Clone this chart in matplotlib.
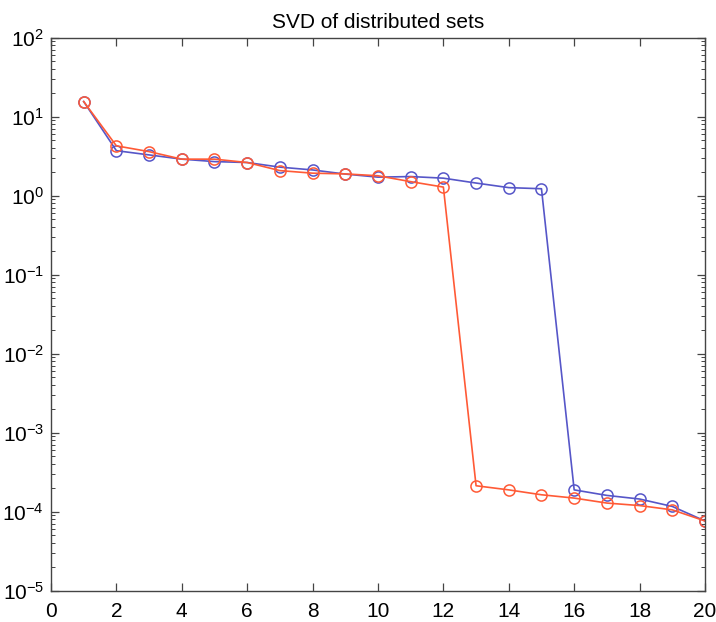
import matplotlib
matplotlib.use("Agg")
import matplotlib.pyplot as plt
from matplotlib.ticker import LogLocator, FixedLocator, NullFormatter

plt.rcParams["font.family"] = ["Liberation Sans", "DejaVu Sans"]

# singular value index
index = list(range(1, 21))

# blue set: drops after 15
blue_sv = [15.5, 3.7, 3.27, 2.89, 2.69, 2.62, 2.29, 2.11, 1.87, 1.71,
           1.74, 1.66, 1.44, 1.26, 1.22, 1.88e-4, 1.60e-4, 1.44e-4, 1.16e-4, 7.6e-5]

# red set: drops after 12
red_sv = [15.5, 4.26, 3.6, 2.89, 2.89, 2.62, 2.07, 1.92, 1.88, 1.78,
          1.50, 1.28, 2.12e-4, 1.88e-4, 1.63e-4, 1.48e-4, 1.28e-4, 1.19e-4, 1.05e-4, 7.6e-5]

x_ticks = list(range(0, 21, 2))

BLUE = "#5656c8"
RED = "#ff5a36"


def main():
    fig = plt.figure(figsize=(7.16, 6.22), dpi=100)
    ax = fig.add_axes([0.0712, 0.0506, 0.9134, 0.889])

    ax.plot(index, blue_sv, color=BLUE, lw=1.2, marker="o", ms=8,
            mfc="none", mec=BLUE, mew=1.1)
    ax.plot(index, red_sv, color=RED, lw=1.2, marker="o", ms=8,
            mfc="none", mec=RED, mew=1.1)

    ax.set_yscale("log")
    ax.set_ylim(1e-5, 1e2)
    ax.set_xlim(0, 20)
    ax.xaxis.set_major_locator(FixedLocator(x_ticks))
    ax.yaxis.set_major_locator(LogLocator(base=10, numticks=10))
    ax.yaxis.set_minor_locator(LogLocator(base=10, subs=range(2, 10), numticks=10))
    ax.yaxis.set_minor_formatter(NullFormatter())

    ax.tick_params(which="both", direction="in", top=True, right=True,
                   labelsize=15, color="#444444")
    ax.tick_params(which="major", length=6, width=0.9)
    ax.tick_params(which="minor", length=3, width=0.7)
    ax.tick_params(axis="x", pad=8)
    ax.tick_params(axis="y", pad=5)
    for spine in ax.spines.values():
        spine.set_color("#444444")
        spine.set_linewidth(1.0)

    ax.set_title("SVD of distributed sets", fontsize=15, pad=7)

    fig.savefig("out.png", dpi=100)
    plt.close(fig)


if __name__ == "__main__":
    main()
